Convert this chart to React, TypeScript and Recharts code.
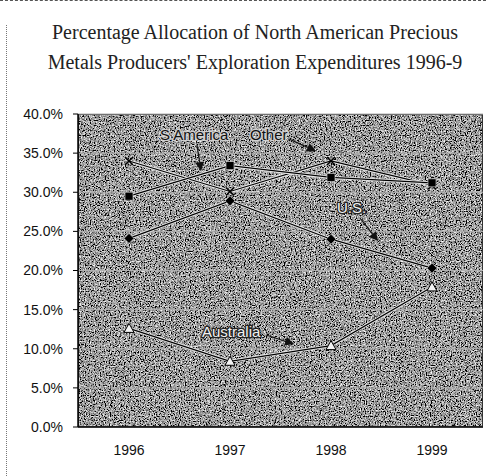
import { LineChart, Line, XAxis, YAxis, CartesianGrid } from "recharts";

const years = ["1996", "1997", "1998", "1999"];
const usShare = [24.1, 28.9, 24.0, 20.3];
const sAmericaShare = [29.5, 33.4, 31.9, 31.2];
const otherShare = [34.0, 30.1, 34.0, 30.9];
const australiaShare = [12.6, 8.4, 10.4, 17.9];
const yTicks = [0, 5, 10, 15, 20, 25, 30, 35, 40];

const data = years.map((year, i) => ({
  year,
  us: usShare[i],
  sAmerica: sAmericaShare[i],
  other: otherShare[i],
  australia: australiaShare[i],
}));

const tickFont = { fontFamily: "Liberation Sans, Arial, sans-serif", fontSize: 14, fill: "#111" };

const squareDot = (p: any) => (
  <rect key={`sq-${p.index}`} x={p.cx - 4} y={p.cy - 4} width={8} height={8} fill="#000" stroke="#ddd" strokeWidth={0.6} />
);
const diamondDot = (p: any) => (
  <polygon
    key={`dm-${p.index}`}
    points={`${p.cx},${p.cy - 5} ${p.cx + 5},${p.cy} ${p.cx},${p.cy + 5} ${p.cx - 5},${p.cy}`}
    fill="#000"
    stroke="#ddd"
    strokeWidth={0.6}
  />
);
const triangleDot = (p: any) => (
  <polygon
    key={`tr-${p.index}`}
    points={`${p.cx},${p.cy - 5} ${p.cx + 5},${p.cy + 4} ${p.cx - 5},${p.cy + 4}`}
    fill="#f2f2f2"
    stroke="#000"
    strokeWidth={1}
  />
);
const crossDot = (p: any) => (
  <g key={`x-${p.index}`} stroke="#000" strokeWidth={1.6}>
    <line x1={p.cx - 4} y1={p.cy - 4} x2={p.cx + 4} y2={p.cy + 4} />
    <line x1={p.cx - 4} y1={p.cy + 4} x2={p.cx + 4} y2={p.cy - 4} />
  </g>
);

function Arrow({ x1, y1, x2, y2 }: { x1: number; y1: number; x2: number; y2: number }) {
  const a = Math.atan2(y2 - y1, x2 - x1);
  const len = 9;
  const w = 4.5;
  const bx = x2 - len * Math.cos(a);
  const by = y2 - len * Math.sin(a);
  const px = -Math.sin(a) * w;
  const py = Math.cos(a) * w;
  return (
    <g>
      <line x1={x1} y1={y1} x2={bx} y2={by} stroke="#111" strokeWidth={1.2} />
      <polygon points={`${x2},${y2} ${bx + px},${by + py} ${bx - px},${by - py}`} fill="#111" />
    </g>
  );
}

const darkLabel = {
  fontFamily: "Liberation Sans, Arial, sans-serif",
  fontSize: 15,
  fill: "#111",
  stroke: "#cfcfcf",
  strokeWidth: 2.5,
  paintOrder: "stroke" as const,
};
const lightLabel = { ...darkLabel, fill: "#f2f2f2", stroke: "#222" };

function series(key: string, dot: any) {
  return [
    <Line key={`${key}-halo`} dataKey={key} stroke="#e8e8e8" strokeWidth={3} dot={false} isAnimationActive={false} />,
    <Line key={key} dataKey={key} stroke="#000" strokeWidth={1.2} dot={dot} isAnimationActive={false} />,
  ];
}

export default function App() {
  return (
    <div style={{ position: "absolute", left: 0, top: 0, width: 486, height: 476, background: "#fff", overflow: "hidden" }}>
      <div style={{ position: "absolute", left: 0, top: 0, width: 486, borderTop: "1px dashed #555" }} />
      <div style={{ position: "absolute", left: 6, top: 25, height: 451, borderLeft: "1px dotted #777" }} />
      <div
        style={{
          position: "absolute",
          left: 0,
          top: 17,
          width: 510,
          textAlign: "center",
          fontFamily: "Liberation Serif, 'Times New Roman', serif",
          fontSize: 20,
          lineHeight: "30px",
          color: "#222",
        }}
      >
        Percentage Allocation of North American Precious
        <br />
        Metals Producers' Exploration Expenditures 1996-9
      </div>
      <svg style={{ position: "absolute", left: 78, top: 114 }} width={405} height={313}>
        <filter id="grain">
          <feTurbulence type="fractalNoise" baseFrequency="0.8" numOctaves={2} seed={4} stitchTiles="stitch" />
          <feColorMatrix type="matrix" values="2.1 0 0 0 -0.72  2.1 0 0 0 -0.72  2.1 0 0 0 -0.72  0 0 0 0 1" />
        </filter>
        <rect width={405} height={313} fill="#5a5a5a" />
        <rect width={405} height={313} filter="url(#grain)" />
        <rect x={0.5} y={0.5} width={404} height={312} fill="none" stroke="#333" />
      </svg>
      <div style={{ position: "absolute", left: 0, top: 0 }}>
        <LineChart width={486} height={476} data={data} margin={{ top: 114, right: 3, bottom: 0, left: 0 }}>
          <CartesianGrid vertical={false} stroke="#b0b0b0" strokeWidth={1} />
          <XAxis
            dataKey="year"
            height={49}
            padding={{ left: 51, right: 51 }}
            tick={tickFont}
            tickLine={false}
            tickSize={0}
            tickMargin={18}
            axisLine={{ stroke: "#000", strokeWidth: 1.5 }}
          />
          <YAxis
            width={78}
            domain={[0, 40]}
            ticks={yTicks}
            tickFormatter={(v: number) => `${v.toFixed(1)}%`}
            tick={tickFont}
            tickSize={5}
            tickMargin={10}
            tickLine={{ stroke: "#000" }}
            axisLine={{ stroke: "#000", strokeWidth: 1.5 }}
          />
          {series("australia", triangleDot)}
          {series("us", diamondDot)}
          {series("other", crossDot)}
          {series("sAmerica", squareDot)}
        </LineChart>
      </div>
      <svg style={{ position: "absolute", left: 0, top: 0, pointerEvents: "none" }} width={486} height={476}>
        <text x={160} y={140} style={darkLabel}>S America</text>
        <Arrow x1={197} y1={145} x2={201} y2={171} />
        <text x={250} y={140} style={darkLabel}>Other</text>
        <Arrow x1={289} y1={139} x2={316} y2={151} />
        <text x={337} y={213} style={lightLabel}>U.S.</text>
        <Arrow x1={360} y1={218} x2={378} y2={241} />
        <text x={202} y={337} style={lightLabel}>Australia</text>
        <Arrow x1={266} y1={335} x2={294} y2={344} />
      </svg>
    </div>
  );
}
